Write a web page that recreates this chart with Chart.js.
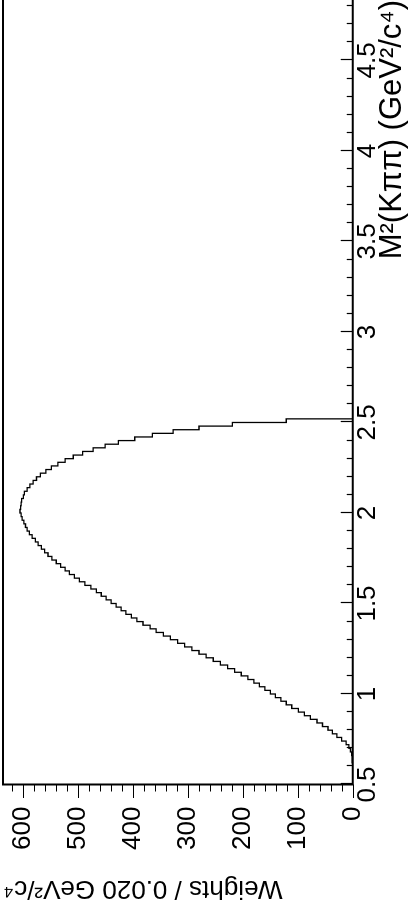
<!DOCTYPE html>
<html lang="en">
<head>
  <meta charset="UTF-8" />
  <title>M2(Kpipi) weights</title>
  <script src="https://cdn.jsdelivr.net/npm/chart.js"></script>
  <style>
    html, body {margin:0;padding:0;background:#fff;overflow:hidden;}
    body {width:414px;height:905px;position:relative;}
    /* the plot is drawn landscape, then turned a quarter turn to the left */
    #wrap {position:absolute;left:0;top:0;width:905px;height:414px;transform-origin:0 0;transform:translateY(905px) rotate(-90deg);}
  </style>
</head>
<body>
<div id="wrap"><canvas id="hist" width="905" height="414"></canvas></div>

<script>
// --------- Data ---------
const binStart = 0.5;     // left edge of first bin, GeV^2/c^4
const binWidth = 0.02;
const weights = [
  0, 0, 0, 0, 0, 0, 1, 1, 2, 4,
  7, 12, 20, 29, 37, 45, 55, 65, 77, 88,
  99, 111, 121, 131, 141, 150, 160, 170, 180, 191,
  203, 215, 228, 241, 254, 267, 280, 293, 306, 319,
  332, 345, 358, 369, 382, 393, 403, 413, 422, 431,
  440, 449, 458, 467, 477, 488, 498, 507, 516, 524,
  532, 540, 548, 555, 561, 567, 573, 578, 584, 589,
  593, 596, 599, 602, 604, 606, 605, 604, 603, 600,
  598, 593, 588, 582, 576, 569, 559, 549, 537, 524,
  509, 492, 473, 451, 427, 397, 365, 327, 280, 219,
  121
];
const xTicks = [0.5, 1, 1.5, 2, 2.5, 3, 3.5, 4, 4.5];
const yTicks = [0, 100, 200, 300, 400, 500, 600];
const xMinorStep = 0.1;
const yMinorStep = 20;
const xRange = [0.5, 4.834];
const yRange = [0, 637];

// histogram outline: one point per left bin edge, closed at the last edge
const points = weights.map((w, i) => ({x: binStart + i * binWidth, y: w}));
points.push({x: binStart + weights.length * binWidth, y: 0});

const FONT = "'Liberation Sans', Arial, Helvetica, sans-serif";

// frame + ROOT-like ticks (x inward, y outward, with minor ticks)
const frameAndTicks = {
  id: 'frameAndTicks',
  afterDatasetsDraw(chart) {
    const {ctx, chartArea: a, scales: {x, y}} = chart;
    const isMajor = (list, v) => list.some(t => Math.abs(t - v) < 1e-6);
    ctx.save();
    ctx.strokeStyle = '#000';
    ctx.lineWidth = 1.2;
    ctx.beginPath();
    for (let i = 0; ; i++) {
      const v = +(xRange[0] + i * xMinorStep).toFixed(4);
      if (v > x.max) break;
      const p = Math.round(x.getPixelForValue(v)) + 0.5;
      const len = isMajor(xTicks, v) ? 12 : 6;
      ctx.moveTo(p, a.bottom);
      ctx.lineTo(p, a.bottom - len);
    }
    for (let i = 0; ; i++) {
      const v = yRange[0] + i * yMinorStep;
      if (v > y.max) break;
      const p = Math.round(y.getPixelForValue(v)) + 0.5;
      const len = isMajor(yTicks, v) ? 13.5 : 7;
      ctx.moveTo(a.left, p);
      ctx.lineTo(a.left - len, p);
    }
    ctx.stroke();
    ctx.lineWidth = 2;
    ctx.beginPath();
    ctx.moveTo(a.right + 2, a.top);
    ctx.lineTo(a.left, a.top);
    ctx.lineTo(a.left, a.bottom);
    ctx.lineTo(a.right + 2, a.bottom);
    ctx.stroke();
    ctx.restore();
  }
};

new Chart(document.getElementById('hist'), {
  type: 'line',
  data: {
    datasets: [{
      data: points,
      stepped: 'before',
      borderColor: '#000',
      borderWidth: 1.3,
      pointRadius: 0,
      fill: false,
      tension: 0
    }]
  },
  options: {
    responsive: false,
    animation: false,
    layout: {padding: {top: 3, right: 0, bottom: 0, left: 0}},
    plugins: {legend: {display: false}, tooltip: {enabled: false}},
    scales: {
      x: {
        type: 'linear',
        position: 'bottom',
        min: xRange[0],
        max: xRange[1],
        afterBuildTicks: s => { s.ticks = xTicks.map(v => ({value: v})); },
        afterFit: s => { s.height = 61.3; s.paddingLeft = 0; s.paddingRight = 0; },
        grid: {display: false, drawTicks: false},
        border: {display: false},
        ticks: {color: '#000', padding: 0, maxRotation: 0, autoSkip: false,
                callback: v => String(v),
                font: {family: FONT, size: 26}},
        title: {display: true, align: 'end', color: '#000',
                text: 'M²(Kππ) (GeV²/c⁴)',
                padding: {top: 0, bottom: 3},
                font: {family: FONT, size: 31}}
      },
      y: {
        type: 'linear',
        position: 'left',
        min: yRange[0],
        max: yRange[1],
        afterBuildTicks: s => { s.ticks = yTicks.map(v => ({value: v})); },
        afterFit: s => { s.width = 120.5; s.paddingTop = 0; s.paddingBottom = 0; },
        grid: {display: false, drawTicks: false},
        border: {display: false},
        ticks: {color: '#000', padding: 22, autoSkip: false,
                callback: v => String(v),
                font: {family: FONT, size: 26}},
        title: {display: true, align: 'end', color: '#000',
                text: 'Weights / 0.020 GeV²/c⁴',
                padding: {top: 1.5, bottom: 0},
                font: {family: FONT, size: 26}}
      }
    }
  },
  plugins: [frameAndTicks]
});
</script>
</body>
</html>
